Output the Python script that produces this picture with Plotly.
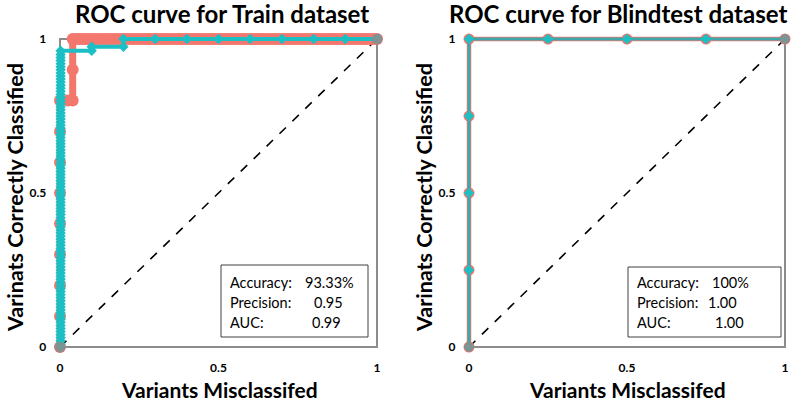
import plotly.graph_objects as go

# ---------------- data ----------------
# Train dataset, salmon series (FPR, TPR)
train_a_fpr = [0, 0, 0, 0, 0, 0, 0, 0, 0, 0.025, 0.04, 0.04, 0.04,
               0.05, 0.06, 0.07, 0.08, 0.09, 0.10, 0.11, 0.12, 0.13, 0.14, 0.15, 0.16, 0.17, 0.18, 0.19, 0.20,
               0.21, 0.22, 0.23, 0.24, 0.25, 0.26, 0.27, 0.28, 0.29, 0.30, 0.31, 0.32, 0.33, 0.34, 0.35, 0.36,
               0.37, 0.38, 0.39, 0.40, 0.41, 0.42, 0.43, 0.44, 0.45, 0.46, 0.47, 0.48, 0.49, 0.50, 0.51, 0.52,
               0.53, 0.54, 0.55, 0.56, 0.57, 0.58, 0.59, 0.60, 0.61, 0.62, 0.63, 0.64, 0.65, 0.66, 0.67, 0.68,
               0.69, 0.70, 0.71, 0.72, 0.73, 0.74, 0.75, 0.76, 0.77, 0.78, 0.79, 0.80, 0.81, 0.82, 0.83, 0.84,
               0.85, 0.86, 0.87, 0.88, 0.89, 0.90, 0.91, 0.92, 0.93, 0.94, 0.95, 0.96, 0.97, 0.98, 0.99, 1.00]
train_a_tpr = [0, 0.1, 0.2, 0.3, 0.4, 0.5, 0.6, 0.7, 0.8, 0.8, 0.8, 0.9, 1.0] + [1.0] * 96

# Train dataset, cyan series (FPR, TPR)
train_b_tpr = [0.00, 0.01, 0.02, 0.03, 0.04, 0.05, 0.06, 0.07, 0.08, 0.09, 0.10, 0.11, 0.12, 0.13, 0.14,
               0.15, 0.16, 0.17, 0.18, 0.19, 0.20, 0.21, 0.22, 0.23, 0.24, 0.25, 0.26, 0.27, 0.28, 0.29,
               0.30, 0.31, 0.32, 0.33, 0.34, 0.35, 0.36, 0.37, 0.38, 0.39, 0.40, 0.41, 0.42, 0.43, 0.44,
               0.45, 0.46, 0.47, 0.48, 0.49, 0.50, 0.51, 0.52, 0.53, 0.54, 0.55, 0.56, 0.57, 0.58, 0.59,
               0.60, 0.61, 0.62, 0.63, 0.64, 0.65, 0.66, 0.67, 0.68, 0.69, 0.70, 0.71, 0.72, 0.73, 0.74,
               0.75, 0.76, 0.77, 0.78, 0.79, 0.80, 0.81, 0.82, 0.83, 0.84, 0.85, 0.86, 0.87, 0.88, 0.89,
               0.90, 0.91, 0.92, 0.93, 0.94, 0.95, 0.962,
               0.962, 0.975, 0.975, 1.0, 1.0, 1.0, 1.0, 1.0, 1.0, 1.0, 1.0, 1.0]
train_b_fpr = [0.002] * 97 + [0.1, 0.1, 0.2, 0.2, 0.3, 0.4, 0.5, 0.6, 0.7, 0.8, 0.9, 1.0]

# Blindtest dataset (both series identical)
blind_fpr = [0, 0, 0, 0, 0, 0.25, 0.5, 0.75, 1.0]
blind_tpr = [0, 0.25, 0.5, 0.75, 1.0, 1.0, 1.0, 1.0, 1.0]

# endpoints and chance line
end_x = [0, 1]
end_y = [0, 1]

titles = ["ROC curve for Train dataset", "ROC curve for Blindtest dataset"]
x_title = "Variants Misclassifed"
y_title = "Varinats Correctly Classified"
tick_vals = [0, 0.5, 1]
tick_text = ["0", "0.5", "1"]
stat_labels = ["Accuracy:", "Precision:", "AUC:"]
stats_train = ["93.33%", "0.95", "0.99"]
stats_blind = ["100%", "1.00", "1.00"]

SALMON = "#F4776E"
CYAN = "#1BBFC4"
TEAL = "#3FA6AA"
GRAY = "#8C8C8C"
FONT = "Lato"

fig = go.Figure()

# ---------- left panel ----------
fig.add_trace(go.Scatter(x=end_x, y=end_y, mode="lines", line=dict(color="black", width=1.6, dash="dash"),
                         xaxis="x", yaxis="y", hoverinfo="skip", cliponaxis=False))
fig.add_trace(go.Scatter(x=train_a_fpr, y=train_a_tpr, mode="lines+markers",
                         line=dict(color=SALMON, width=7),
                         marker=dict(symbol="circle", size=12, color=SALMON),
                         xaxis="x", yaxis="y", cliponaxis=False))
fig.add_trace(go.Scatter(x=train_b_fpr, y=train_b_tpr, mode="lines+markers",
                         line=dict(color=CYAN, width=4),
                         marker=dict(symbol="diamond", size=8, color=CYAN),
                         xaxis="x", yaxis="y", cliponaxis=False))
fig.add_trace(go.Scatter(x=end_x, y=end_y, mode="markers",
                         marker=dict(symbol="circle", size=11, color=GRAY, opacity=0.85),
                         xaxis="x", yaxis="y", cliponaxis=False))

# ---------- right panel ----------
fig.add_trace(go.Scatter(x=end_x, y=end_y, mode="lines", line=dict(color="black", width=1.6, dash="dash"),
                         xaxis="x2", yaxis="y2", hoverinfo="skip", cliponaxis=False))
fig.add_trace(go.Scatter(x=blind_fpr, y=blind_tpr, mode="lines+markers",
                         line=dict(color=SALMON, width=4.5),
                         marker=dict(symbol="circle", size=11, color=SALMON),
                         xaxis="x2", yaxis="y2", cliponaxis=False))
fig.add_trace(go.Scatter(x=blind_fpr, y=blind_tpr, mode="lines+markers",
                         line=dict(color=TEAL, width=3),
                         marker=dict(symbol="diamond", size=8, color=CYAN),
                         xaxis="x2", yaxis="y2", cliponaxis=False))
fig.add_trace(go.Scatter(x=end_x, y=end_y, mode="markers",
                         marker=dict(symbol="circle", size=10, color=GRAY, opacity=0.85),
                         xaxis="x2", yaxis="y2", cliponaxis=False))

W, H = 800, 405
PAD = 0.04
PX_TOP, PX_BOT = 39, 347
ylen = PX_BOT - PX_TOP
y0p = (H - PX_BOT - PAD * ylen) / H
y1p = (H - PX_TOP + PAD * ylen) / H

tickfont = dict(family=FONT, size=12, color="black", weight="bold")

def xaxis(px0, px1, anchor):
    xlen = px1 - px0
    return dict(domain=[(px0 - PAD * xlen) / W, (px1 + PAD * xlen) / W], range=[-PAD, 1 + PAD],
                anchor=anchor, tickvals=tick_vals, ticktext=tick_text,
                showgrid=False, zeroline=False, showline=False, automargin=False,
                ticks="", ticklabelstandoff=0, tickfont=tickfont)

def yaxis(anchor):
    return dict(domain=[y0p, y1p], range=[-PAD, 1 + PAD], anchor=anchor, tickvals=tick_vals,
                ticktext=tick_text, showgrid=False, zeroline=False, showline=False, automargin=False,
                ticks="", ticklabelstandoff=0, tickfont=tickfont)

fig.update_layout(
    width=W, height=H,
    margin=dict(l=0, r=0, t=0, b=0, autoexpand=False),
    plot_bgcolor="white", paper_bgcolor="white",
    showlegend=False,
    xaxis=xaxis(60, 377, "y"),
    yaxis=yaxis("x"),
    xaxis2=xaxis(469, 785, "y2"),
    yaxis2=yaxis("x2"),
)

# plot-area frames (drawn below the traces)
shapes = []
for xr, yr in [("x", "y"), ("x2", "y2")]:
    shapes.append(dict(type="rect", xref=xr, yref=yr, x0=0, x1=1, y0=0, y1=1,
                       line=dict(color=GRAY, width=2), layer="below"))

annotations = []
for cx, t in [(222, titles[0]), (618, titles[1])]:
    annotations.append(dict(text="<b>" + t + "</b>", x=cx / W, y=1 - 13 / H, xref="paper", yref="paper",
                            showarrow=False, font=dict(family=FONT, size=24, color="black"),
                            xanchor="center", yanchor="middle"))
for cx in [219, 627]:
    annotations.append(dict(text="<b>" + x_title + "</b>", x=cx / W, y=1 - 389 / H, xref="paper",
                            yref="paper", showarrow=False, font=dict(family=FONT, size=21, color="black"),
                            xanchor="center", yanchor="middle"))
for cx in [15, 424]:
    annotations.append(dict(text="<b>" + y_title + "</b>", x=cx / W, y=1 - 198 / H, xref="paper",
                            yref="paper", showarrow=False, font=dict(family=FONT, size=21.5, color="black"),
                            xanchor="center", yanchor="middle", textangle=-90))

def stats_box(x0, x1, y0, y1, labels, values, valxs):
    shp = [dict(type="rect", xref="paper", yref="paper", x0=x0 / W, x1=x1 / W,
                y0=1 - y1 / H, y1=1 - y0 / H, line=dict(color="#404040", width=1),
                fillcolor="white", layer="above")]
    anns = []
    for i, (lab, val, vx) in enumerate(zip(labels, values, valxs)):
        yy = 282 + i * 20
        anns.append(dict(text=lab, x=(x0 + 7) / W, y=1 - yy / H, xref="paper", yref="paper",
                         showarrow=False, xanchor="left", yanchor="middle",
                         font=dict(family=FONT, size=14.5, color="black")))
        anns.append(dict(text=val, x=vx / W, y=1 - yy / H, xref="paper", yref="paper",
                         showarrow=False, xanchor="center", yanchor="middle",
                         font=dict(family=FONT, size=14.5, color="black")))
    return shp, anns

s1, a1 = stats_box(221, 368, 265, 337, stat_labels, stats_train, [329, 328, 326])
s2, a2 = stats_box(628, 781, 267, 337, stat_labels, stats_blind, [730, 722, 729])
annotations += a1 + a2
fig.update_layout(shapes=shapes + s1 + s2, annotations=annotations)

fig.write_html("out.html", config={"displayModeBar": False},
               post_script="document.body.style.margin='0';document.body.style.padding='0';")
